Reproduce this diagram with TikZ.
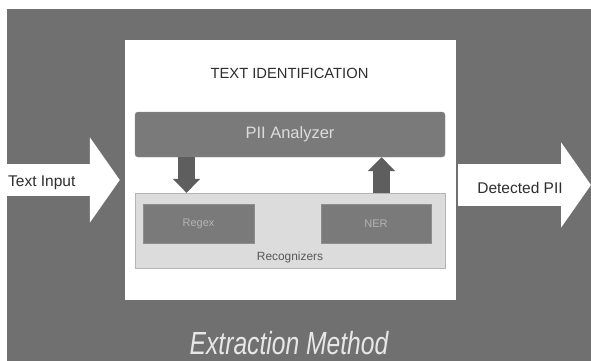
\documentclass[tikz,border=0pt]{standalone}
\usepackage{fontspec}
\setmainfont{Liberation Sans}
\usepackage{tikz}
\usetikzlibrary{arrows.meta, positioning}
\definecolor{PiiBack}{HTML}{707070}
\definecolor{PiiBar}{HTML}{7A7A7A}
\definecolor{PiiDark}{HTML}{5E5E5E}
\definecolor{PiiLight}{HTML}{DCDCDC}
\definecolor{PiiEdge}{HTML}{B4B4B4}
\definecolor{PiiInk}{HTML}{2E2E2E}

\begin{document}
\begin{tikzpicture}[x=1pt, y=-1pt, every node/.style={inner sep=0pt}]
  \tikzset{
    panel/.style={rectangle, fill=white, minimum width=331pt, minimum height=260pt},
    bar/.style={rectangle, rounded corners=3pt, fill=PiiBar, draw=PiiBar!85!white, minimum width=310pt, minimum height=45pt, text=PiiLight, font=\fontsize{16.5}{19}\selectfont},
    recog/.style={rectangle, fill=PiiLight, draw=PiiEdge, minimum width=310pt, minimum height=75pt},
    rule/.style={rectangle, fill=PiiBar, draw=PiiBar!85!white, minimum height=39pt, text=PiiEdge, font=\fontsize{11}{13}\selectfont},
    label/.style={font=\fontsize{15.5}{18}\selectfont, text=PiiInk},
    fat/.style={line width=17pt, color=PiiDark, -{Triangle[length=14pt, width=27pt]}},
    big/.style={line width=#1, color=white, -{Triangle[length=30pt, width=84pt]}}
  }
  % background
  \useasboundingbox (0,0) rectangle (591,361);
  \fill[PiiBack] (7,9) rectangle (591,361);

  \node[panel] (box) at (290.5,170) {};
  \node[label, font=\fontsize{14.75}{17}\selectfont] (title) at (289.5,73) {TEXT IDENTIFICATION};
  \node[bar] (analyzer) at (290,134.5) {PII Analyzer};
  \node[recog] (recognizers) at (290,230.5) {};
  \node[rule, minimum width=111pt] (regex) at (198.5,223.5) {Regex};
  \node[rule, minimum width=110pt] (ner) at (376,223.5) {NER};
  \node[font=\fontsize{11.9}{14}\selectfont, text=PiiInk!80!white] (reclabel) at (290,257) {Recognizers};

  % analyzer <-> recognizers
  \coordinate (dnx) at (186.5,0);
  \coordinate (upx) at (381.5,0);
  \draw[fat] (analyzer.south -| dnx) -- (recognizers.north -| dnx);
  \draw[fat] (recognizers.north -| upx) -- (analyzer.south -| upx);

  % input and output
  \coordinate (intail) at (7,180);
  \coordinate (outtip) at (591,185);
  \draw[big=32pt, shorten >=5pt] (intail) -- (box.west |- intail);
  \draw[big=42pt, shorten <=2pt] (box.east |- outtip) -- (outtip);
  \node[label, anchor=west] (intext) at (8,183) {Text Input};
  \node[label] (outtext) at (520,188) {Detected PII};

  \node[font=\itshape\fontsize{32}{36}\selectfont, text=PiiLight!70!white, xscale=0.77] (method) at (289,343) {Extraction Method};
\end{tikzpicture}
\end{document}
